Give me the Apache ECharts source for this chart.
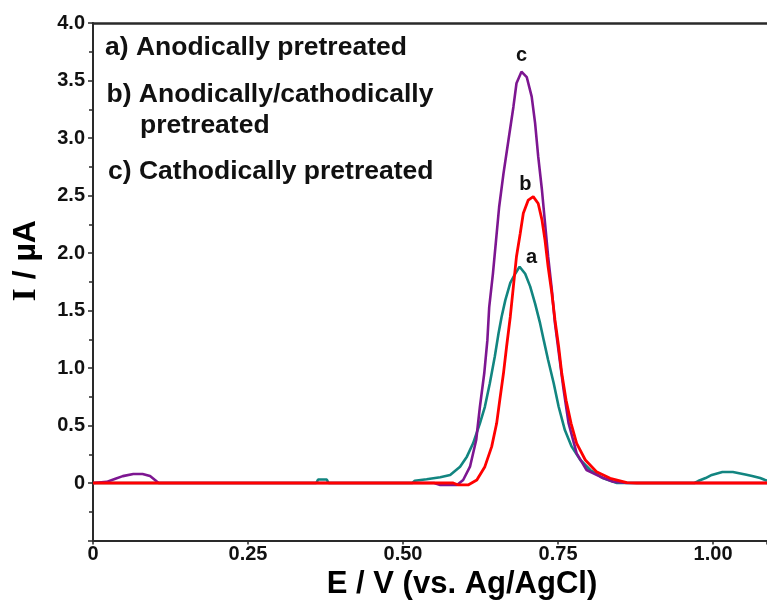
<!DOCTYPE html>
<html>
<head>
<meta charset="utf-8">
<script src="https://cdn.jsdelivr.net/npm/echarts@6/dist/echarts.min.js"></script>
<style>
html,body{margin:0;padding:0;background:#fff;}
#chart{width:767px;height:602px;}
</style>
</head>
<body>
<div id="chart"></div>
<script>
// ---- data (E in V, I in µA) ----
const xTickValues = [0, 0.25, 0.5, 0.75, 1.0];
const yTickValues = [0, 0.5, 1.0, 1.5, 2.0, 2.5, 3.0, 3.5, 4.0];

const aName = 'a) Anodically pretreated';
const bNameLine1 = 'b) Anodically/cathodically';
const bNameLine2 = 'pretreated';
const cName = 'c) Cathodically pretreated';

// a) anodically pretreated (teal)
const aE = [0, 0.36, 0.363, 0.37, 0.377, 0.38, 0.515, 0.519, 0.538, 0.56, 0.576, 0.592, 0.603, 0.613, 0.624, 0.632, 0.640, 0.648, 0.654, 0.659, 0.665, 0.673, 0.681, 0.688, 0.697, 0.705, 0.713, 0.721, 0.727, 0.734, 0.743, 0.751, 0.761, 0.772, 0.786, 0.802, 0.823, 0.845, 0.855, 0.97, 0.976, 0.988, 0.998, 1.015, 1.032, 1.052, 1.063, 1.076, 1.084, 1.087];
const aI = [0, 0, 0.03, 0.03, 0.03, 0, 0, 0.02, 0.032, 0.05, 0.07, 0.142, 0.229, 0.345, 0.519, 0.663, 0.867, 1.10, 1.30, 1.446, 1.59, 1.74, 1.82, 1.881, 1.82, 1.71, 1.56, 1.39, 1.24, 1.07, 0.867, 0.663, 0.46, 0.316, 0.2, 0.113, 0.041, 0, 0, 0, 0.017, 0.043, 0.07, 0.096, 0.096, 0.074, 0.06, 0.043, 0.026, 0.02];

// c) cathodically pretreated (purple)
const cE = [0, 0.022, 0.035, 0.048, 0.065, 0.08, 0.092, 0.102, 0.106, 0.55, 0.56, 0.587, 0.597, 0.608, 0.618, 0.624, 0.631, 0.636, 0.639, 0.645, 0.650, 0.655, 0.662, 0.670, 0.678, 0.683, 0.691, 0.6995, 0.7075, 0.713, 0.718, 0.724, 0.729, 0.734, 0.740, 0.745, 0.752, 0.759, 0.767, 0.780, 0.796, 0.818, 0.839, 0.861, 1.087];
const cI = [0, 0.01, 0.035, 0.06, 0.078, 0.078, 0.06, 0.017, 0, 0, -0.017, -0.017, 0.026, 0.142, 0.374, 0.663, 0.954, 1.24, 1.53, 1.82, 2.11, 2.40, 2.69, 2.98, 3.27, 3.476, 3.577, 3.53, 3.36, 3.13, 2.84, 2.55, 2.26, 1.97, 1.68, 1.39, 1.10, 0.81, 0.52, 0.258, 0.113, 0.055, 0.011, 0, 0];

// b) anodically/cathodically pretreated (red)
const bE = [0, 0.581, 0.589, 0.605, 0.619, 0.632, 0.643, 0.651, 0.656, 0.662, 0.667, 0.673, 0.678, 0.683, 0.689, 0.694, 0.702, 0.710, 0.718, 0.724, 0.729, 0.734, 0.740, 0.745, 0.751, 0.756, 0.763, 0.771, 0.780, 0.794, 0.812, 0.834, 0.861, 0.877, 1.087];
const bI = [0, 0, -0.017, -0.017, 0.026, 0.142, 0.316, 0.519, 0.72, 0.954, 1.185, 1.446, 1.71, 1.97, 2.17, 2.345, 2.46, 2.49, 2.43, 2.29, 2.11, 1.88, 1.65, 1.42, 1.185, 0.954, 0.72, 0.519, 0.345, 0.2, 0.098, 0.041, 0.003, 0, 0];

// ---- build ----
const pairs = (xs, ys) => xs.map((x, i) => [x, ys[i]]);
const peak = (xs, ys) => { let k = 0; ys.forEach((v, i) => { if (v > ys[k]) k = i; }); return [xs[k], ys[k]]; };

const tickFont = 'Liberation Sans';
const textFont = 'Liberation Sans';
const axisCol = '#2a2a2a';

function peakMark(xs, ys, text, offset) {
  return {
    symbol: 'circle', symbolSize: 1, silent: true,
    itemStyle: { color: 'rgba(0,0,0,0)' },
    label: { show: true, position: 'inside', formatter: text, offset: offset,
      color: '#111', fontFamily: textFont, fontWeight: 'bold', fontSize: 20 },
    data: [{ coord: peak(xs, ys) }]
  };
}

const chart = echarts.init(document.getElementById('chart'), null, { renderer: 'canvas' });
chart.setOption({
  animation: false,
  backgroundColor: '#fff',
  grid: { left: 93, top: 23, right: 0, bottom: 61.5, containLabel: false, outerBoundsMode: 'none' },
  xAxis: [{
    type: 'value', min: 0, max: 1.087, interval: 0.25, position: 'bottom',
    name: 'E / V (vs. Ag/AgCl)', nameLocation: 'middle', nameGap: 25,
    nameTextStyle: { fontFamily: textFont, fontWeight: 'bold', fontSize: 31, color: '#000', padding: [0, 0, 0, 64] },
    axisLine: { show: true, onZero: false, lineStyle: { color: axisCol, width: 2 } },
    axisTick: { show: true, inside: false, length: 4, lineStyle: { color: axisCol, width: 1.5 } },
    axisLabel: { margin: 4, fontFamily: tickFont, fontWeight: 'bold', fontSize: 20, color: '#111',
      formatter: v => (Math.abs(v) < 1e-9 ? '0' : (xTickValues.includes(+v.toFixed(2)) ? v.toFixed(2) : '')) },
    splitLine: { show: false }
  }, {
    type: 'value', min: 0, max: 1.087, position: 'top',
    axisLine: { show: true, onZero: false, lineStyle: { color: axisCol, width: 2.5 } },
    axisTick: { show: false }, axisLabel: { show: false }, splitLine: { show: false }
  }],
  yAxis: {
    type: 'value', min: -0.5, max: 4.0, interval: 0.5, position: 'left',
    name: '{s|I} / µA', nameLocation: 'middle', nameGap: 50, nameRotate: 90,
    nameTextStyle: { fontFamily: textFont, fontWeight: 'bold', fontSize: 32, color: '#000', padding: [0, 0, 0, 42],
      rich: { s: { fontFamily: 'Liberation Serif', fontWeight: 'bold', fontSize: 34, color: '#000' } } },
    axisLine: { show: true, onZero: false, lineStyle: { color: axisCol, width: 2 } },
    axisTick: { show: true, inside: false, length: 5, lineStyle: { color: axisCol, width: 1.5 } },
    minorTick: { show: true, splitNumber: 2, length: 4, lineStyle: { color: axisCol, width: 1.5 } },
    axisLabel: { margin: 8, fontFamily: tickFont, fontWeight: 'bold', fontSize: 20, color: '#111',
      formatter: v => (Math.abs(v) < 1e-9 ? '0' : (v < 0 ? '' : v.toFixed(1))) },
    splitLine: { show: false }, minorSplitLine: { show: false }
  },
  series: [{
    name: aName, type: 'line', xAxisIndex: 0, data: pairs(aE, aI), showSymbol: false, smooth: false,
    lineStyle: { color: '#128580', width: 2.6 }, itemStyle: { color: '#128580' },
    markPoint: peakMark(aE, aI, 'a', [12, -9]), z: 2
  }, {
    name: cName, type: 'line', xAxisIndex: 0, data: pairs(cE, cI), showSymbol: false, smooth: false,
    lineStyle: { color: '#7d1691', width: 2.6 }, itemStyle: { color: '#7d1691' },
    markPoint: peakMark(cE, cI, 'c', [0, -16]), z: 3
  }, {
    name: bNameLine1 + ' ' + bNameLine2, type: 'line', xAxisIndex: 0, data: pairs(bE, bI), showSymbol: false, smooth: false,
    lineStyle: { color: '#ff0000', width: 2.8 }, itemStyle: { color: '#ff0000' },
    markPoint: peakMark(bE, bI, 'b', [-8, -12]), z: 4
  }],
  graphic: [
    { type: 'text', x: 105, y: 48, style: { text: aName, font: 'bold 26.5px "Liberation Sans"', fill: '#111', verticalAlign: 'middle', align: 'left' } },
    { type: 'text', x: 106.5, y: 95, style: { text: bNameLine1, font: 'bold 26.5px "Liberation Sans"', fill: '#111', verticalAlign: 'middle', align: 'left' } },
    { type: 'text', x: 140, y: 125.5, style: { text: bNameLine2, font: 'bold 26.5px "Liberation Sans"', fill: '#111', verticalAlign: 'middle', align: 'left' } },
    { type: 'text', x: 108, y: 172, style: { text: cName, font: 'bold 26.5px "Liberation Sans"', fill: '#111', verticalAlign: 'middle', align: 'left' } }
  ]
});
</script>
</body>
</html>
